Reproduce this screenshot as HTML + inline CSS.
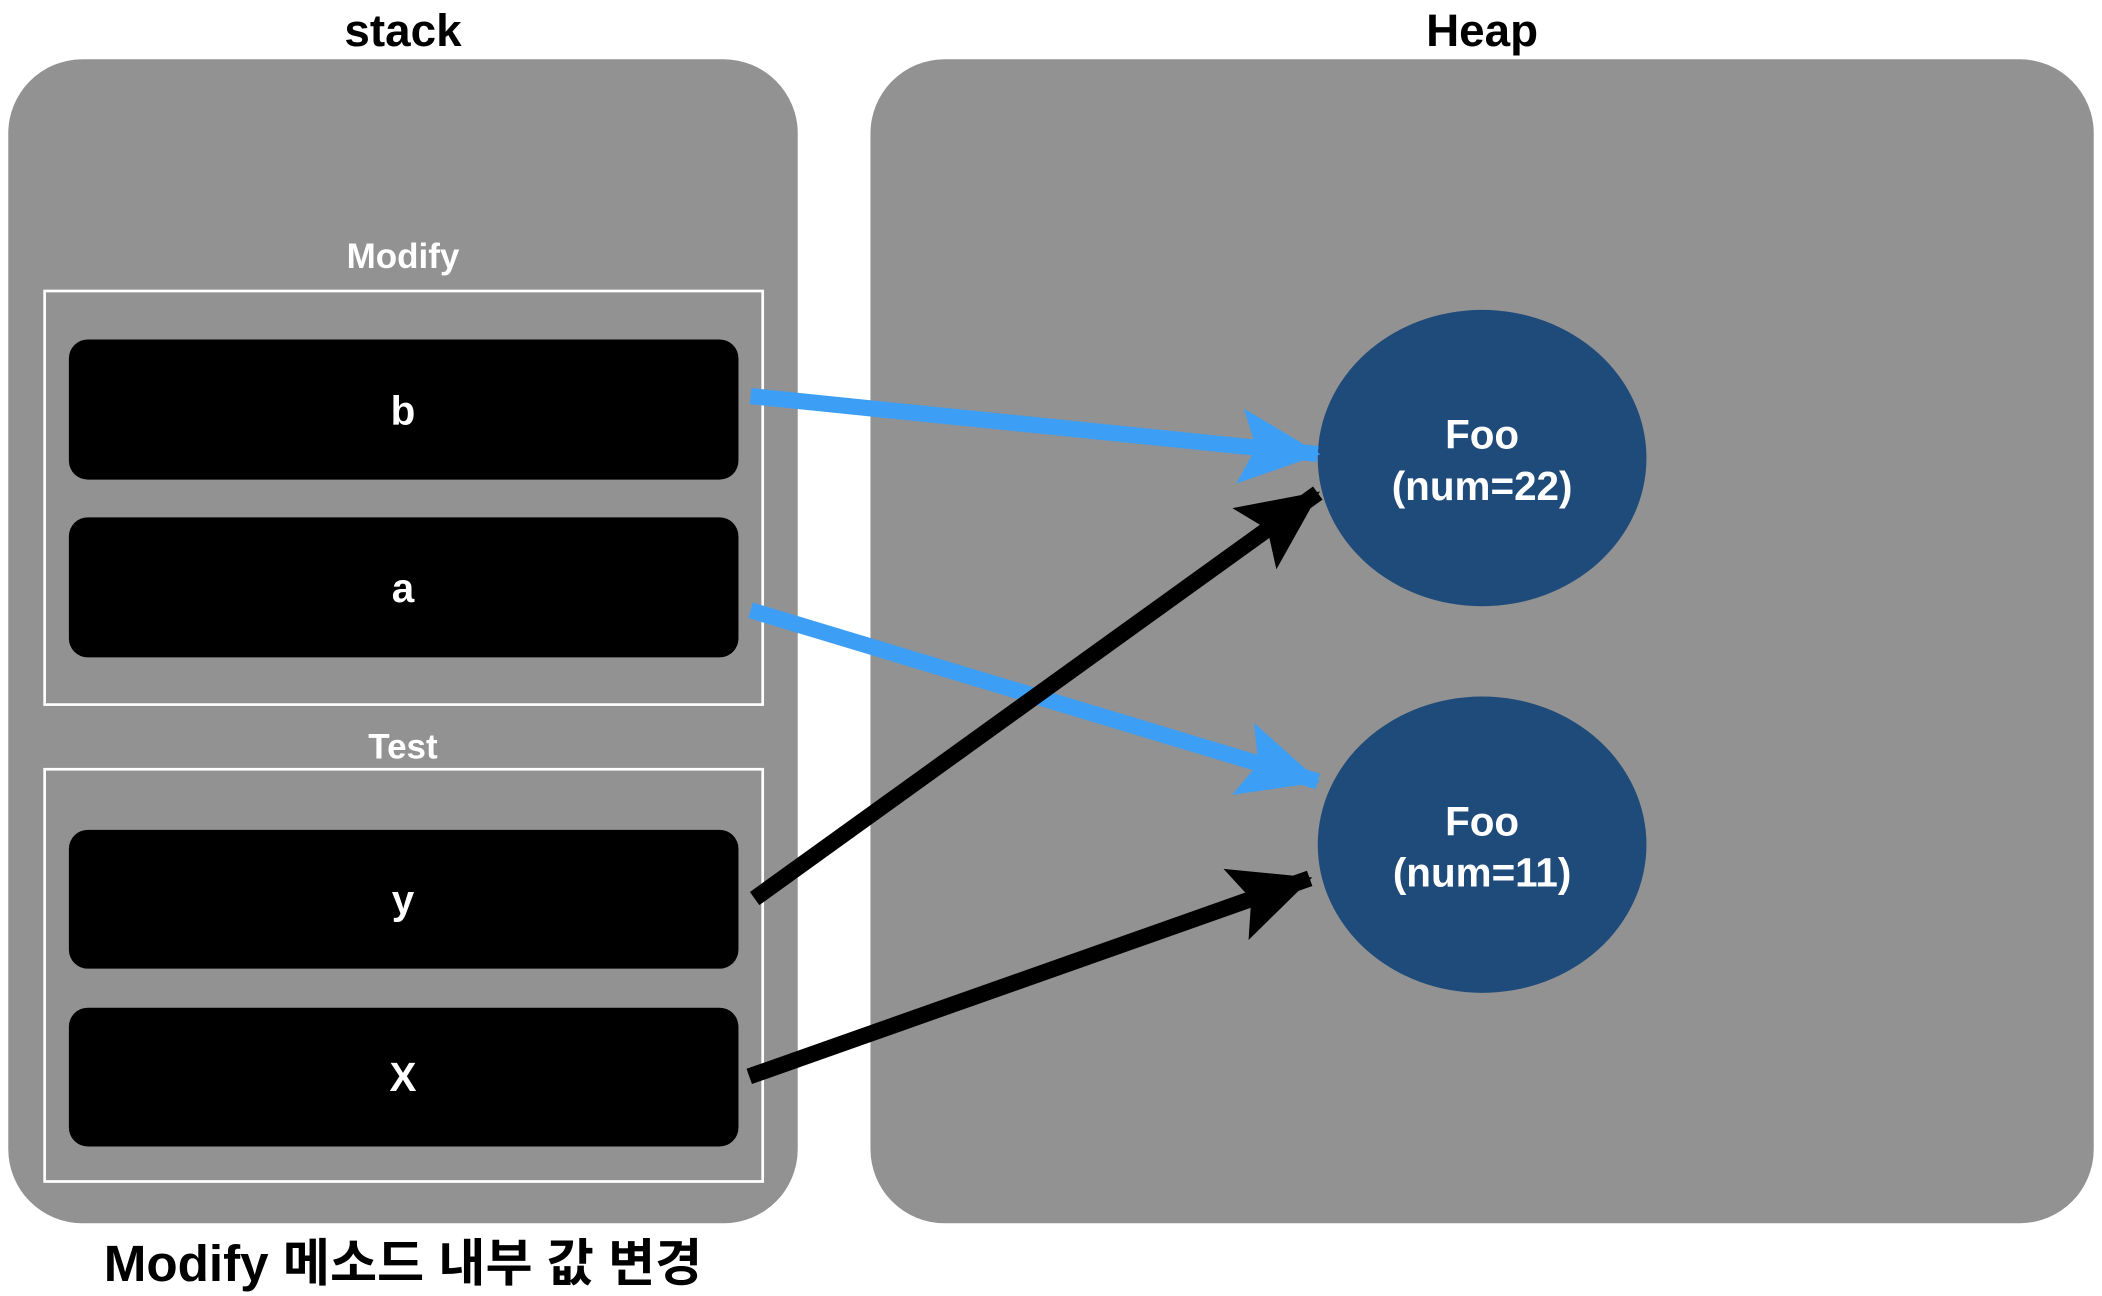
<!DOCTYPE html>
<html><head><meta charset="utf-8"><style>
html,body{margin:0;padding:0;background:#fff;}
svg{display:block;}
text{font-family:"Liberation Sans","Noto Sans CJK KR",sans-serif;font-weight:bold;text-anchor:middle;}
</style></head><body>
<svg width="2102" height="1296" viewBox="0 0 1560 962" xmlns="http://www.w3.org/2000/svg">
<defs>
<marker id="hb" markerUnits="userSpaceOnUse" markerWidth="60" markerHeight="56" refX="58" refY="28" orient="auto" viewBox="0 0 60 56"><path d="M0,0 L60,28 L0,56 L12,28 Z" fill="#3d9ef5"/></marker>
<marker id="hk" markerUnits="userSpaceOnUse" markerWidth="60" markerHeight="56" refX="58" refY="28" orient="auto" viewBox="0 0 60 56"><path d="M0,0 L60,28 L0,56 L12,28 Z" fill="#000"/></marker>
</defs>
<rect width="1560" height="962" fill="#fff"/>
<text x="299" y="34" font-size="34" fill="#000">stack</text>
<text x="1100" y="34" font-size="34" fill="#000">Heap</text>
<rect x="6" y="44" width="586" height="864" rx="55" fill="#929292"/>
<rect x="646" y="44" width="908" height="864" rx="55" fill="#929292"/>
<text x="299" y="199" font-size="26" fill="#fff">Modify</text>
<rect x="33" y="216" width="533" height="307" fill="none" stroke="#fff" stroke-width="2"/>
<rect x="51" y="252" width="497" height="104" rx="14" fill="#000"/>
<rect x="51" y="384" width="497" height="104" rx="14" fill="#000"/>
<text x="299" y="315" font-size="30" fill="#fff">b</text>
<text x="299" y="447" font-size="30" fill="#fff">a</text>
<text x="299" y="563" font-size="26" fill="#fff">Test</text>
<rect x="33" y="571" width="533" height="306" fill="none" stroke="#fff" stroke-width="2"/>
<rect x="51" y="616" width="497" height="103" rx="14" fill="#000"/>
<rect x="51" y="748" width="497" height="103" rx="14" fill="#000"/>
<text x="299" y="678" font-size="30" fill="#fff">y</text>
<text x="299" y="810" font-size="30" fill="#fff">X</text>
<ellipse cx="1100" cy="340" rx="122" ry="110" fill="#1f4b7a"/>
<ellipse cx="1100" cy="627" rx="122" ry="110" fill="#1f4b7a"/>
<text x="1100" y="333" font-size="30" fill="#fff" font-weight="normal">Foo</text>
<text x="1100" y="371" font-size="30" fill="#fff" font-weight="normal">(num=22)</text>
<text x="1100" y="620" font-size="30" fill="#fff" font-weight="normal">Foo</text>
<text x="1100" y="658" font-size="30" fill="#fff" font-weight="normal">(num=11)</text>
<line x1="557" y1="294" x2="978" y2="337" stroke="#3d9ef5" stroke-width="12" marker-end="url(#hb)"/>
<line x1="557" y1="453" x2="978" y2="580" stroke="#3d9ef5" stroke-width="12" marker-end="url(#hb)"/>
<line x1="560" y1="667" x2="978" y2="366" stroke="#000" stroke-width="12" marker-end="url(#hk)"/>
<line x1="556" y1="799" x2="972" y2="652" stroke="#000" stroke-width="12" marker-end="url(#hk)"/>
<text x="299" y="951" font-size="38" fill="#000">Modify 메소드  내부 값 변경</text>
</svg>
</body></html>
